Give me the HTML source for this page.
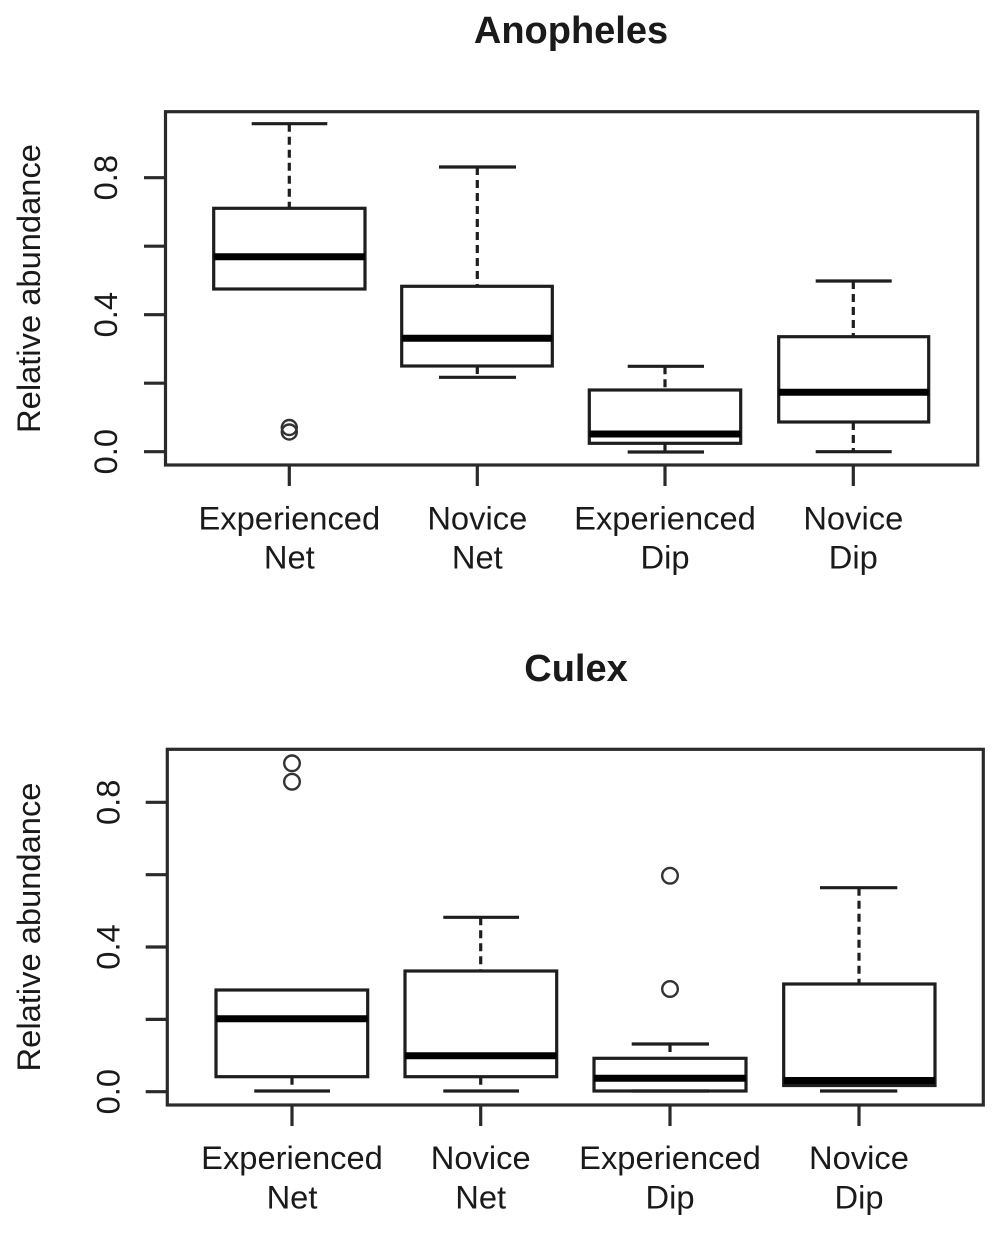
<!DOCTYPE html>
<html>
<head>
<meta charset="utf-8">
<style>
  html,body{margin:0;padding:0;background:#fff;}
  svg{display:block;}
  text{font-family:"Liberation Sans", Arial, sans-serif;fill:#1a1a1a;}
  .t{font-weight:bold;font-size:38px;}
  .lab{font-size:32.7px;}
  .ln{stroke:#1e1e1e;stroke-width:3.2;fill:none;}
  .ax{stroke:#2a2a2a;stroke-width:3.2;fill:none;}
  .med{stroke:#000;stroke-width:7;}
  .dash{stroke:#1e1e1e;stroke-width:3.2;stroke-dasharray:8 5;}
  .out{stroke:#333;stroke-width:2.4;fill:none;}
</style>
</head>
<body>
<svg width="1000" height="1236" viewBox="0 0 1000 1236" xmlns="http://www.w3.org/2000/svg">
  <rect width="1000" height="1236" fill="#fff"/>

  <!-- ================= TOP: Anopheles ================= -->
  <text class="t" x="571" y="43" text-anchor="middle">Anopheles</text>

  <rect class="ax" x="165.5" y="111.7" width="812.2" height="353.3"/>

  <g class="ax">
    <line x1="144" y1="451.7" x2="165.5" y2="451.7"/>
    <line x1="144" y1="383.2" x2="165.5" y2="383.2"/>
    <line x1="144" y1="314.7" x2="165.5" y2="314.7"/>
    <line x1="144" y1="246.2" x2="165.5" y2="246.2"/>
    <line x1="144" y1="177.7" x2="165.5" y2="177.7"/>
  </g>
  <text class="lab" transform="translate(117,451.7) rotate(-90)" text-anchor="middle">0.0</text>
  <text class="lab" transform="translate(117,314.7) rotate(-90)" text-anchor="middle">0.4</text>
  <text class="lab" transform="translate(117,177.7) rotate(-90)" text-anchor="middle">0.8</text>
  <text class="lab" transform="translate(40,288.5) rotate(-90)" text-anchor="middle">Relative abundance</text>

  <g class="ax">
    <line x1="289.3" y1="465" x2="289.3" y2="486"/>
    <line x1="477.3" y1="465" x2="477.3" y2="486"/>
    <line x1="665" y1="465" x2="665" y2="486"/>
    <line x1="853.3" y1="465" x2="853.3" y2="486"/>
  </g>
  <g class="lab" text-anchor="middle">
    <text x="289.3" y="529.5">Experienced</text><text x="289.3" y="568.5">Net</text>
    <text x="477.3" y="529.5">Novice</text><text x="477.3" y="568.5">Net</text>
    <text x="665" y="529.5">Experienced</text><text x="665" y="568.5">Dip</text>
    <text x="853.3" y="529.5">Novice</text><text x="853.3" y="568.5">Dip</text>
  </g>

  <!-- box 1 -->
  <line class="dash" x1="289.3" y1="123.7" x2="289.3" y2="208.3"/>
  <line class="ln" x1="251.7" y1="123.7" x2="327.3" y2="123.7"/>
  <rect class="ln" x="213.7" y="208.3" width="151.3" height="80.7"/>
  <line class="med" x1="213.7" y1="256.7" x2="365" y2="256.7"/>
  <circle class="out" cx="289.3" cy="427.5" r="7.5"/>
  <circle class="out" cx="289.3" cy="432" r="7.5"/>

  <!-- box 2 -->
  <line class="dash" x1="477.3" y1="167" x2="477.3" y2="286.3"/>
  <line class="dash" x1="477.3" y1="366" x2="477.3" y2="377.3"/>
  <line class="ln" x1="439" y1="167" x2="516" y2="167"/>
  <line class="ln" x1="439" y1="377.3" x2="516" y2="377.3"/>
  <rect class="ln" x="401.7" y="286.3" width="150.6" height="79.7"/>
  <line class="med" x1="401.7" y1="338.3" x2="552.3" y2="338.3"/>

  <!-- box 3 -->
  <line class="dash" x1="665" y1="366.3" x2="665" y2="390"/>
  <line class="dash" x1="665" y1="443.3" x2="665" y2="452"/>
  <line class="ln" x1="627.7" y1="366.3" x2="704" y2="366.3"/>
  <line class="ln" x1="627.7" y1="452" x2="704" y2="452"/>
  <rect class="ln" x="589.3" y="390" width="151.4" height="53.3"/>
  <line class="med" x1="589.3" y1="434" x2="740.7" y2="434"/>

  <!-- box 4 -->
  <line class="dash" x1="853.3" y1="281" x2="853.3" y2="336.7"/>
  <line class="dash" x1="853.3" y1="422" x2="853.3" y2="451.7"/>
  <line class="ln" x1="815.7" y1="281" x2="891.7" y2="281"/>
  <line class="ln" x1="815.7" y1="451.7" x2="891.7" y2="451.7"/>
  <rect class="ln" x="778.7" y="336.7" width="150" height="85.3"/>
  <line class="med" x1="778.7" y1="392.3" x2="928.7" y2="392.3"/>

  <!-- ================= BOTTOM: Culex ================= -->
  <text class="t" x="576" y="681" text-anchor="middle">Culex</text>

  <rect class="ax" x="167.3" y="749.3" width="816" height="355.7"/>

  <g class="ax">
    <line x1="145.7" y1="1091.7" x2="167.3" y2="1091.7"/>
    <line x1="145.7" y1="1019.4" x2="167.3" y2="1019.4"/>
    <line x1="145.7" y1="947" x2="167.3" y2="947"/>
    <line x1="145.7" y1="874.7" x2="167.3" y2="874.7"/>
    <line x1="145.7" y1="802.3" x2="167.3" y2="802.3"/>
  </g>
  <text class="lab" transform="translate(119.5,1091.7) rotate(-90)" text-anchor="middle">0.0</text>
  <text class="lab" transform="translate(119.5,947) rotate(-90)" text-anchor="middle">0.4</text>
  <text class="lab" transform="translate(119.5,802.3) rotate(-90)" text-anchor="middle">0.8</text>
  <text class="lab" transform="translate(40,927) rotate(-90)" text-anchor="middle">Relative abundance</text>

  <g class="ax">
    <line x1="292" y1="1105" x2="292" y2="1126"/>
    <line x1="480.7" y1="1105" x2="480.7" y2="1126"/>
    <line x1="670" y1="1105" x2="670" y2="1126"/>
    <line x1="859" y1="1105" x2="859" y2="1126"/>
  </g>
  <g class="lab" text-anchor="middle">
    <text x="292" y="1169">Experienced</text><text x="292" y="1208.3">Net</text>
    <text x="480.7" y="1169">Novice</text><text x="480.7" y="1208.3">Net</text>
    <text x="670" y="1169">Experienced</text><text x="670" y="1208.3">Dip</text>
    <text x="859" y="1169">Novice</text><text x="859" y="1208.3">Dip</text>
  </g>

  <!-- box 1 -->
  <line class="dash" x1="292" y1="1076.7" x2="292" y2="1091"/>
  <line class="ln" x1="254.3" y1="1091" x2="330" y2="1091"/>
  <rect class="ln" x="216" y="990" width="151.7" height="86.7"/>
  <line class="med" x1="216" y1="1018.7" x2="367.7" y2="1018.7"/>
  <circle class="out" cx="292" cy="763.3" r="7.8"/>
  <circle class="out" cx="292" cy="781.7" r="7.8"/>

  <!-- box 2 -->
  <line class="dash" x1="480.7" y1="917.3" x2="480.7" y2="971"/>
  <line class="dash" x1="480.7" y1="1076.7" x2="480.7" y2="1091"/>
  <line class="ln" x1="443.3" y1="917.3" x2="519" y2="917.3"/>
  <line class="ln" x1="443.3" y1="1091" x2="519" y2="1091"/>
  <rect class="ln" x="405" y="971" width="151.7" height="105.7"/>
  <line class="med" x1="405" y1="1055.7" x2="556.7" y2="1055.7"/>

  <!-- box 3 -->
  <line class="dash" x1="670" y1="1044" x2="670" y2="1058.3"/>
  <line class="ln" x1="631.7" y1="1044" x2="709" y2="1044"/>
  <line class="ln" x1="631.7" y1="1091" x2="709" y2="1091"/>
  <rect class="ln" x="594" y="1058.3" width="152" height="32.7"/>
  <line class="med" x1="594" y1="1078.3" x2="746" y2="1078.3"/>
  <circle class="out" cx="670" cy="875.7" r="7.8"/>
  <circle class="out" cx="670" cy="989" r="7.8"/>

  <!-- box 4 -->
  <line class="dash" x1="859" y1="887.7" x2="859" y2="984"/>
  <line class="ln" x1="820" y1="887.7" x2="897.3" y2="887.7"/>
  <line class="ln" x1="820" y1="1091" x2="897.3" y2="1091"/>
  <rect class="ln" x="783.7" y="984" width="151.3" height="101.5"/>
  <line class="med" x1="783.7" y1="1080.5" x2="935" y2="1080.5"/>
</svg>
</body>
</html>
